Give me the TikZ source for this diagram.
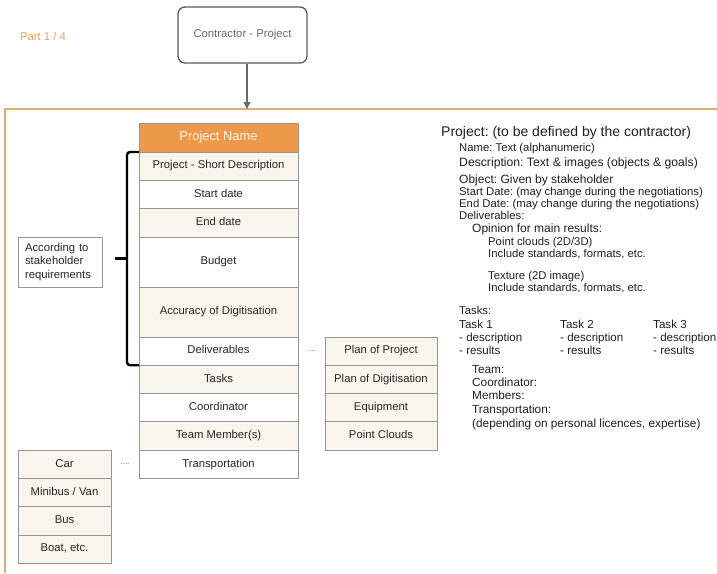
\documentclass[tikz,border=0pt]{standalone}
\usepackage{fontspec}
\setmainfont{Liberation Sans}
\usetikzlibrary{arrows.meta, calc, positioning}
\definecolor{frameorange}{RGB}{226,172,112}
\definecolor{partorange}{RGB}{226,160,92}
\definecolor{headorange}{RGB}{236,153,74}
\definecolor{cream}{RGB}{249,246,238}
\definecolor{cellgray}{RGB}{150,150,150}
\definecolor{textgray}{RGB}{105,105,105}
\frenchspacing
\newcommand{\fsz}[1]{\fontsize{#1}{#1}\selectfont}

\begin{document}
\begin{tikzpicture}[x=1pt,y=-1pt,
  font=\fsz{11.3},
  cell/.style={draw=cellgray,line width=.8pt,minimum width=159pt,
    minimum height=28.3pt,inner sep=0pt,outer sep=0pt,text=black!85,
    text height=8pt,text depth=2.4pt},
  tall/.style={cell,minimum height=50pt},
  shaded/.style={fill=cream},
  side/.style={cell,fill=cream,minimum width=112pt},
  mode/.style={cell,fill=cream,minimum width=93pt},
  dots/.style={text=textgray,font=\fsz{8}},
  brace/.style={line width=2.4pt,rounded corners=3pt},
  note/.style={anchor=west,inner sep=0pt,text=black!88,
    text height=8pt,text depth=2.4pt}]
\useasboundingbox (0,0) rectangle (717,573);
% Title and the box on top
\node[text=partorange] (part) at (43,36) {Part 1 / 4};
\node[draw=black!65,line width=1.3pt,rounded corners=7pt,minimum width=129pt,
  minimum height=56pt,text=textgray] (contractor) at (242.5,35)
  {Contractor - Project};
% Orange frame round the fields
\coordinate (frametop) at (247,109);
\draw[frameorange,line width=2pt] (717,109) -- (5,109) -- (5,573);
\draw[-{Triangle[length=7pt,width=7pt]},textgray,line width=1.4pt]
  (contractor.south -| frametop) -- (frametop);
% Main column of fields
\node[cell,fill=headorange,text=cream,minimum height=29pt,font=\fsz{12.9}]
  (name) at (218.5,137.5) {Project Name};
\node[cell,shaded,below=0pt of name] (desc) {Project - Short Description};
\node[cell,below=0pt of desc] (start) {Start date};
\node[cell,shaded,below=0pt of start] (end) {End date};
\node[tall,below=0pt of end] (budget) {Budget};
\node[tall,shaded,below=0pt of budget] (accuracy) {Accuracy of Digitisation};
\node[cell,below=0pt of accuracy] (deliv) {Deliverables};
\node[cell,shaded,below=0pt of deliv] (tasks) {Tasks};
\node[cell,below=0pt of tasks] (coord) {Coordinator};
\node[cell,shaded,below=0pt of coord] (team) {Team Member(s)};
\node[cell,below=0pt of team] (transport) {Transportation};
% Deliverables column
\node[side,right=27pt of deliv] (plan) {Plan of Project};
\node[side,below=0pt of plan] (digi) {Plan of Digitisation};
\node[side,below=0pt of digi] (equip) {Equipment};
\node[side,below=0pt of equip] (clouds) {Point Clouds};
\path (deliv) -- node[dots] {....} (plan);
% Transportation column
\node[mode,left=28pt of transport] (car) {Car};
\node[mode,below=0pt of car] (minibus) {Minibus / Van};
\node[mode,below=0pt of minibus] (bus) {Bus};
\node[mode,below=0pt of bus] (boat) {Boat, etc.};
\path (car) -- node[dots] {....} (transport);
% Brace for the stakeholder fields
\coordinate (bracetop) at ([xshift=-12pt]desc.north west);
\coordinate (bracebot) at ([xshift=-12pt]deliv.south west);
\coordinate (bracemid) at ($(bracetop)!.5!(bracebot)$);
\draw[brace] (desc.north west) -- (bracetop) -- (bracebot)
  -- (deliv.south west);
\draw[line width=2.4pt] (bracemid) -- ++(-12,0);
\node[draw=cellgray,line width=.8pt,minimum width=84pt,minimum height=50pt,
  text width=70pt,inner sep=0pt,align=left,text=black!85,
  font=\fontsize{11.3}{13.5}\selectfont] (according) at (60,262)
  {According to\\stakeholder\\requirements};
% Notes on the right
\node[note,font=\fsz{14}] (tproject) at (441,134)
  {Project: (to be defined by the contractor)};
\node[note] (tname) at (459,149) {Name: Text (alphanumeric)};
\node[note,font=\fsz{12.2}] (tdesc) at (459,164)
  {Description: Text \& images (objects \& goals)};
\node[note,font=\fsz{12}] (tobject) at (459,181) {Object: Given by stakeholder};
\node[note] (tstart) at (459,193) {Start Date: (may change during the negotiations)};
\node[note] (tend) at (459,205) {End Date: (may change during the negotiations)};
\node[note] (tdeliv) at (459,217) {Deliverables:};
\node[note,font=\fsz{12}] (topinion) at (472,230) {Opinion for main results:};
\node[note] (tclouds) at (488,243) {Point clouds (2D/3D)};
\node[note] (tincl1) at (488,255) {Include standards, formats, etc.};
\node[note] (ttexture) at (488,277) {Texture (2D image)};
\node[note] (tincl2) at (488,289) {Include standards, formats, etc.};
\node[note] (ttasks) at (459,312) {Tasks:};
\foreach \n/\x in {1/459,2/560,3/653} {
  \node[note,font=\fsz{11.6}] (task\n) at (\x,326) {Task \n};
  \node[note,font=\fsz{11.6}] (task\n d) at (\x,339) {- description};
  \node[note,font=\fsz{11.6}] (task\n r) at (\x,352) {- results};
}
\node[note,font=\fsz{11.8}] (tteam) at (472,371) {Team:};
\node[note,font=\fsz{11.8}] (tcoord) at (472,384) {Coordinator:};
\node[note,font=\fsz{11.8}] (tmembers) at (472,397) {Members:};
\node[note,font=\fsz{11.8}] (ttransport) at (472,411) {Transportation:};
\node[note,font=\fsz{11.8}] (tdepend) at (472,425)
  {(depending on personal licences, expertise)};
\end{tikzpicture}
\end{document}
